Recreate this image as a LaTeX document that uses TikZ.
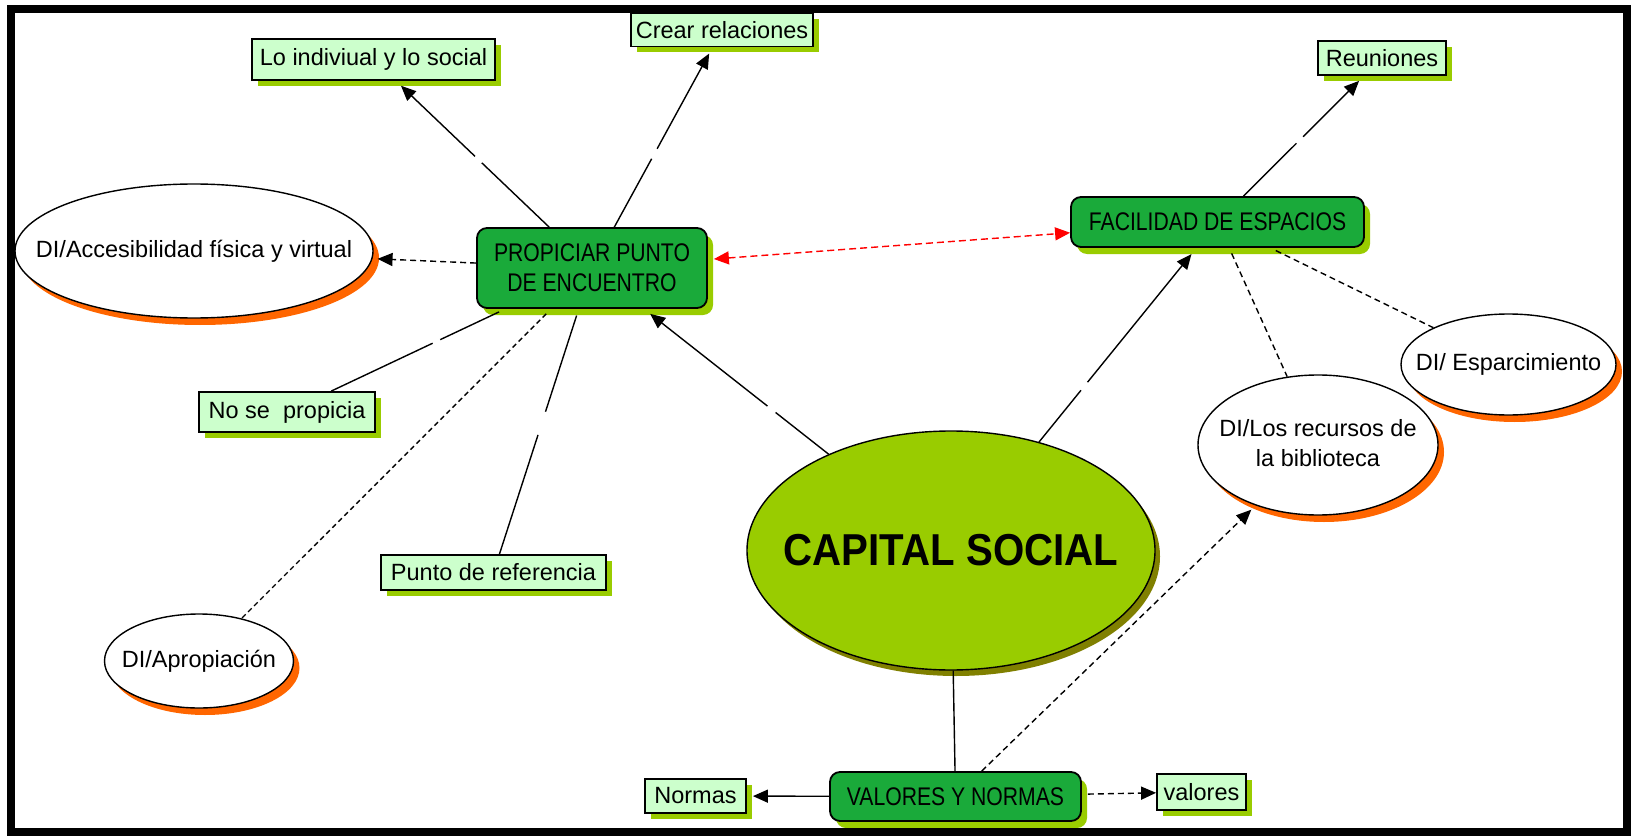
\documentclass[tikz,border=0pt]{standalone}
\usepackage{fontspec}
\setmainfont{Liberation Sans}
\usepackage{graphicx}
\usetikzlibrary{shapes.geometric,arrows.meta,calc,shadows}

\definecolor{lightbox}{RGB}{204,255,204}
\definecolor{limeshadow}{RGB}{153,204,0}
\definecolor{darkbox}{RGB}{26,170,58}
\definecolor{capfill}{RGB}{153,204,0}
\definecolor{capshadow}{RGB}{128,128,0}
\definecolor{orangeshadow}{RGB}{255,102,0}
\definecolor{linkred}{RGB}{255,0,0}

\newcommand{\sq}[1]{\scalebox{0.83}[1]{\fontsize{25.5pt}{30pt}\selectfont #1}}
\newcommand{\zw}[1]{\makebox[0pt][c]{#1}}

\begin{document}
\begin{tikzpicture}[x=1pt,y=-1pt,
  every node/.style={font=\fontsize{23.5pt}{30pt}\selectfont, text=black},
  leaf/.style={rectangle, draw=black, line width=1.8pt, fill=lightbox, inner sep=0pt,
     drop shadow={shadow xshift=6pt, shadow yshift=-6pt, opacity=1, fill=limeshadow}},
  hub/.style={rectangle, rounded corners=10pt, draw=black, line width=1.8pt, fill=darkbox, inner sep=0pt, align=center,
     drop shadow={shadow xshift=6pt, shadow yshift=-7pt, opacity=1, fill=limeshadow}},
  oval/.style={ellipse, draw=black, line width=1.4pt, fill=white, inner sep=0pt,
     drop shadow={shadow xshift=6pt, shadow yshift=-7pt, opacity=1, fill=orangeshadow}},
  core/.style={ellipse, draw=black, line width=1.4pt, fill=capfill, inner sep=0pt,
     drop shadow={shadow xshift=5pt, shadow yshift=-6pt, opacity=1, fill=capshadow}},
  gap/.style={circle, inner sep=0pt, minimum size=#1},
  gap/.default=9pt,
  conn/.style={line width=1.4pt, draw=black},
  arr/.style={-{Triangle[length=15pt,width=13pt]}},
  dsh/.style={dash pattern=on 6pt off 4pt},
  fdsh/.style={dash pattern=on 5pt off 3.5pt},
  redlink/.style={line width=1.4pt, draw=linkred, dash pattern=on 7pt off 4pt,
     {Triangle[length=15pt,width=13pt]}-{Triangle[length=15pt,width=13pt]}},
]
\useasboundingbox (0,0) rectangle (1633,837);
\fill[white] (0,0) rectangle (1633,837);

% nodes
\node[leaf, minimum width=243pt, minimum height=41pt] (lo) at (373.5,59.5) {Lo indiviual y lo social};
\node[leaf, minimum width=182pt, minimum height=33pt] (crear) at (722,30) {Crear relaciones};
\node[leaf, minimum width=128pt, minimum height=34pt] (reun) at (1382,58) {Reuniones};
\node[hub, minimum width=230pt, minimum height=80pt] (prop) at (592,268) {\sq{PROPICIAR PUNTO}\\\sq{DE ENCUENTRO}};
\node[hub, minimum width=293pt, minimum height=50pt] (fac) at (1217.5,222) {\sq{FACILIDAD DE ESPACIOS}};
\node[oval, minimum width=358pt, minimum height=134pt] (acc) at (194,251) {\zw{DI/Accesibilidad física y virtual}};
\node[leaf, minimum width=176pt, minimum height=40pt] (nose) at (287,412) {No se\ \ propicia};
\node[leaf, minimum width=225pt, minimum height=35pt] (punto) at (493.5,572.5) {Punto de referencia};
\node[oval, minimum width=189pt, minimum height=94pt] (apro) at (199,661) {\zw{DI/Apropiación}};
\node[core, minimum width=408pt, minimum height=239pt] (cap) at (951,550.5) {\zw{\scalebox{0.9}[1]{\fontsize{44.7pt}{50pt}\selectfont\bfseries CAPITAL SOCIAL}}};
\node[oval, minimum width=240pt, minimum height=140pt] (recur) at (1318,445) {\zw{\begin{tabular}{@{}c@{}}DI/Los recursos de\\la biblioteca\end{tabular}}};
\node[oval, minimum width=215pt, minimum height=101pt] (espar) at (1508.5,364.5) {\zw{DI/ Esparcimiento}};
\node[hub, minimum width=251pt, minimum height=49pt] (val) at (955.5,796.5) {\sq{VALORES Y NORMAS}};
\node[leaf, minimum width=101pt, minimum height=34pt] (normas) at (695.5,796) {Normas};
\node[leaf, minimum width=89pt, minimum height=36pt] (valores) at (1201.5,792) {valores};

% link gaps
\node[gap] (g1) at ($(prop)!0.52!(lo)$) {};
\node[gap=11pt] (g2) at ($(prop)!0.48!(crear)$) {};
\node[gap=8pt] (g3) at ($(prop)!0.51!(nose)$) {};
\node[gap=24pt] (g4) at ($(prop)!0.51!(punto)$) {};
\node[gap=10pt] (g5) at ($(cap)!0.5!(prop)$) {};
\node[gap=10pt] (g6) at ($(cap)!0.5!(fac)$) {};
\node[gap=9pt] (g7) at ($(fac)!0.5!(reun)$) {};

% connectors
\draw[conn] (prop) -- (g1);
\draw[conn, arr, shorten >=7pt] (g1) -- (lo);
\draw[conn] (prop) -- (g2);
\draw[conn, arr, shorten >=7pt] (g2) -- (crear);
\draw[conn, dsh, arr, shorten >=5pt] (prop) -- (acc);
\draw[conn, shorten <=7pt] (prop) -- (g3);
\draw[conn] (g3) -- (nose);
\draw[conn, fdsh, shorten <=7pt] (prop) -- (apro);
\draw[conn, shorten <=7pt] (prop) -- (g4);
\draw[conn] (g4) -- (punto);
\draw[conn] (cap) -- (g5);
\draw[conn, arr, shorten >=8pt] (g5) -- (prop);
\draw[conn] (cap) -- (g6);
\draw[conn, arr, shorten >=8pt] (g6) -- (fac);
\draw[conn] (fac) -- (g7);
\draw[conn, arr, shorten >=7pt] (g7) -- (reun);
\draw[conn, dsh, shorten <=6pt] (fac) -- (recur);
\draw[conn, dsh, shorten <=6pt] (fac) -- (espar);
\draw[redlink, shorten <=6pt] (prop) -- (fac);
\draw[conn] (cap) -- (val);
\draw[conn, dsh, arr, shorten >=6pt] (val) -- (recur);
\draw[conn, arr, shorten >=6pt] (val) -- (normas);
\draw[conn, dsh, arr, shorten <=6pt] (val) -- (valores);

% frame
\draw[line width=8pt] (11,9) rectangle (1627,832);
\end{tikzpicture}
\end{document}
